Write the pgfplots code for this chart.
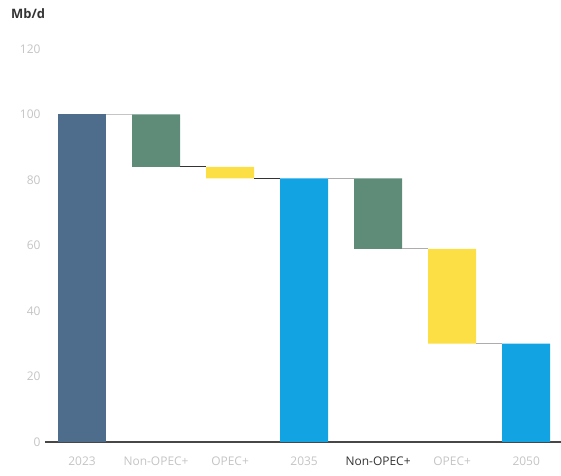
\documentclass[border=0pt]{standalone}
\usepackage{fontspec}
\setmainfont{Open Sans}
\usepackage{pgfplots}
\pgfplotsset{compat=1.18}
\definecolor{c23}{HTML}{4E6D8D}
\definecolor{cgreen}{HTML}{5E8C78}
\definecolor{cyellow}{HTML}{FBDF45}
\definecolor{cblue}{HTML}{12A3E3}
\definecolor{lg}{HTML}{C4C4C4}
\definecolor{dk}{HTML}{333333}
\definecolor{conn}{HTML}{8A8A8A}
\begin{document}
\begin{tikzpicture}
\path[use as bounding box] (-45bp,-34bp) rectangle (516bp,442bp);
\begin{axis}[at={(0,0)}, anchor=south west, scale only axis,
  width=516bp, height=393bp,
  xmin=-0.5, xmax=6.47, ymin=0, ymax=120,
  ybar stacked, bar width=48bp,
  axis x line*=bottom, axis y line*=left,
  x axis line style={draw=dk!90, line width=1.3bp},
  y axis line style={draw=none},
  major tick length=0pt,
  xtick={0,...,6},
  xticklabels={{\color{lg}2023},{\color{lg}Non-OPEC+},{\color{lg}OPEC+},{\color{lg}2035},{\color{dk}Non-OPEC+},{\color{lg}OPEC+},{\color{lg}2050}},
  ytick={0,20,...,120},
  /pgf/number format/assume math mode=true,
  yticklabel style={font=\fontsize{12}{14}\selectfont, text=lg, xshift=-1bp},
  xticklabel style={font=\fontsize{12}{14}\selectfont, yshift=-11bp},
  every axis plot/.append style={draw=none},
]
\addplot[fill=none, draw=none] coordinates {(0,0) (1,84) (2,80.5) (3,0) (4,59) (5,30) (6,0)};
\addplot[fill=c23] coordinates {(0,100) (1,0) (2,0) (3,0) (4,0) (5,0) (6,0)};
\addplot[fill=cgreen] coordinates {(0,0) (1,16) (2,0) (3,0) (4,21.5) (5,0) (6,0)};
\addplot[fill=cyellow] coordinates {(0,0) (1,0) (2,3.5) (3,0) (4,0) (5,29) (6,0)};
\addplot[fill=cblue] coordinates {(0,0) (1,0) (2,0) (3,80.5) (4,0) (5,0) (6,30)};
\end{axis}
\begin{axis}[at={(0,0)}, anchor=south west, scale only axis,
  width=516bp, height=393bp,
  xmin=-0.5, xmax=6.47, ymin=0, ymax=120, hide axis]
\addplot[conn!50, line width=0.8bp] coordinates {(0.324,100) (0.676,100)};
\addplot[dk, line width=0.8bp] coordinates {(1.324,84) (1.676,84)};
\addplot[dk, line width=0.8bp] coordinates {(2.324,80.5) (2.676,80.5)};
\addplot[conn!70, line width=0.8bp] coordinates {(3.324,80.5) (3.676,80.5)};
\addplot[conn!70, line width=0.8bp] coordinates {(4.324,59) (4.676,59)};
\addplot[conn!70, line width=0.8bp] coordinates {(5.324,30) (5.676,30)};
\end{axis}
\node[anchor=north west, inner sep=0pt, font=\bfseries\fontsize{13}{15}\selectfont, text=dk] at (-34bp,434bp) {Mb/d};
\end{tikzpicture}
\end{document}
